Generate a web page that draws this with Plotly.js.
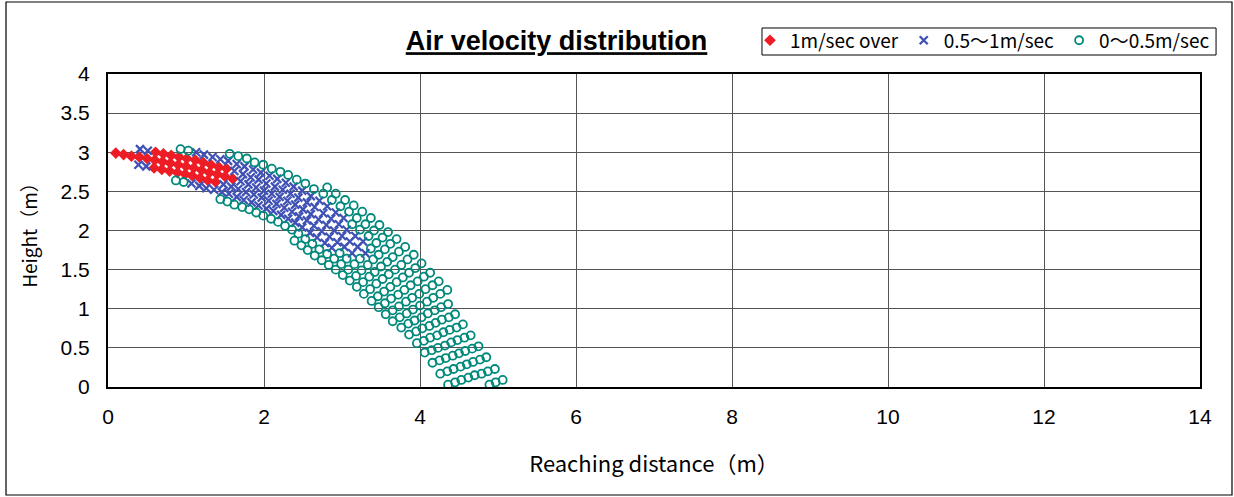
<!DOCTYPE html>
<html>
<head>
<meta charset="utf-8">
<script src="https://cdn.plot.ly/plotly-3.0.1.min.js"></script>
<style>
  html, body { margin: 0; padding: 0; background: #ffffff; }
  #chart { width: 1234px; height: 497px; }
</style>
</head>
<body>
<div id="chart"></div>
<script>
// ---- Data (metres) ----
const seriesNames = ['1m/sec over', '0.5〜1m/sec', '0〜0.5m/sec'];

const redX = [0.10,0.20,0.30,0.40,0.50,
  0.61,0.60,0.59, 0.71,0.70,0.69, 0.81,0.80,0.79, 0.91,0.90,0.89, 1.01,1.00,0.99,
  1.12,1.10,1.08, 1.22,1.20,1.18, 1.32,1.30,1.28, 1.42,1.40,1.38, 1.52,1.50, 1.60];
const redY = [2.99,2.97,2.95,2.94,2.92,
  3.00,2.90,2.80, 2.98,2.88,2.78, 2.96,2.86,2.76, 2.94,2.84,2.74, 2.92,2.82,2.72,
  2.90,2.80,2.70, 2.87,2.77,2.67, 2.84,2.74,2.64, 2.81,2.72,2.62, 2.79,2.69, 2.66];

const blueX = [0.41,0.39, 0.51,0.49, 1.13,1.07, 1.23,1.17, 1.34,1.26, 1.44,1.36,
  1.54,1.48,1.46, 1.65,1.62,1.58,1.55,
  1.75,1.73,1.70,1.67,1.65, 1.86,1.83,1.80,1.77,1.74, 1.96,1.93,1.90,1.87,1.84,
  2.07,2.03,2.00,1.97,1.93, 2.17,2.14,2.10,2.06,2.03, 2.28,2.24,2.20,2.16,2.12,
  2.38,2.34,2.30,2.26,2.22, 2.49,2.44,2.40,2.36,2.31, 2.60,2.55,2.50,2.45,2.40,
  2.71,2.65,2.60,2.55,2.49, 2.81,2.76,2.70,2.64,2.59, 2.92,2.86,2.80,2.74,2.68,
  3.02,2.96,2.90,2.84,2.78, 3.06,3.00,2.94,2.87, 3.17,3.10,3.03, 3.27,3.20,3.13, 3.30];
const blueY = [3.04,2.84, 3.02,2.82, 3.00,2.60, 2.97,2.57, 2.94,2.54, 2.91,2.52,
  2.89,2.59,2.49, 2.85,2.76,2.56,2.47,
  2.82,2.72,2.63,2.53,2.43, 2.78,2.68,2.59,2.49,2.39, 2.74,2.65,2.55,2.46,2.36,
  2.70,2.60,2.51,2.42,2.32, 2.66,2.56,2.47,2.38,2.28, 2.61,2.52,2.43,2.34,2.25,
  2.56,2.47,2.38,2.29,2.20, 2.51,2.42,2.33,2.24,2.15, 2.44,2.36,2.27,2.18,2.10,
  2.38,2.30,2.21,2.13,2.04, 2.31,2.22,2.14,2.06,1.97, 2.23,2.15,2.07,1.99,1.91,
  2.16,2.08,2.00,1.92,1.84, 2.01,1.93,1.85,1.78, 1.93,1.86,1.79, 1.86,1.79,1.71, 1.71];

const greenX = [0.93,0.87, 1.03,0.97, 1.56,1.44, 1.67,1.53, 1.78,1.62, 1.88,1.72, 1.99,1.81,
  2.10,1.90, 2.21,1.99, 2.31,2.09, 2.42,2.18, 2.53,2.27, 2.64,2.36,
  2.81,2.76,2.44,2.39, 2.92,2.87,2.53,2.48, 3.04,2.98,2.62,2.56, 3.15,3.09,2.71,2.65,
  3.26,3.19,3.13,2.81,2.74, 3.37,3.30,3.23,2.97,2.90,2.83, 3.48,3.41,3.34,3.06,2.99,2.92,
  3.59,3.52,3.44,3.37,3.23,3.16,3.08,3.01,
  3.70,3.62,3.55,3.47,3.40,3.33,3.25,3.18,3.10,
  3.81,3.73,3.65,3.58,3.50,3.42,3.35,3.27,3.19,
  3.92,3.84,3.76,3.68,3.60,3.52,3.44,3.36,3.28,
  4.02,3.94,3.86,3.78,3.70,3.62,3.54,3.46,3.38,
  4.13,4.05,3.97,3.88,3.80,3.72,3.63,3.55,3.47,
  4.24,4.16,4.07,3.99,3.90,3.82,3.73,3.65,3.56,
  4.35,4.26,4.17,4.09,4.00,3.91,3.83,3.74,3.65,
  4.36,4.27,4.19,4.10,4.02,3.93,3.85,3.76,
  4.45,4.37,4.28,4.20,4.12,4.03,3.95,3.86,
  4.55,4.47,4.38,4.30,4.22,4.13,4.05,3.96,
  4.65,4.57,4.48,4.40,4.32,4.23,4.15,4.06,
  4.75,4.67,4.58,4.50,4.42,4.33,4.25,4.16,
  4.85,4.77,4.68,4.60,4.52,4.43,4.35,4.26,
  4.96,4.87,4.79,4.70,4.62,4.53,4.45,4.36,
  5.06,4.97,4.89];
const greenY = [3.04,2.64, 3.02,2.62, 2.98,2.40, 2.95,2.37, 2.92,2.33, 2.87,2.30, 2.84,2.27,
  2.79,2.23, 2.75,2.19, 2.71,2.15, 2.65,2.11, 2.60,2.06, 2.53,2.01,
  2.55,2.47,1.96,1.87, 2.47,2.39,1.89,1.81, 2.39,2.31,1.83,1.75, 2.32,2.24,1.76,1.68,
  2.24,2.16,2.08,1.70,1.62, 2.16,2.08,2.01,1.71,1.64,1.56, 2.07,2.00,1.93,1.64,1.57,1.50,
  1.98,1.91,1.84,1.77,1.64,1.57,1.50,1.43,
  1.89,1.83,1.76,1.69,1.63,1.56,1.49,1.42,1.36,
  1.79,1.73,1.66,1.60,1.54,1.47,1.41,1.34,1.28,
  1.69,1.63,1.56,1.50,1.44,1.38,1.32,1.25,1.19,
  1.58,1.52,1.46,1.40,1.34,1.28,1.22,1.16,1.10,
  1.46,1.41,1.35,1.30,1.24,1.18,1.13,1.07,1.02,
  1.35,1.30,1.25,1.19,1.14,1.09,1.03,0.98,0.93,
  1.24,1.19,1.14,1.09,1.04,0.99,0.94,0.89,0.84,
  1.06,1.02,0.98,0.94,0.89,0.85,0.81,0.76,
  0.93,0.89,0.86,0.82,0.78,0.75,0.71,0.67,
  0.80,0.76,0.73,0.70,0.66,0.63,0.59,0.56,
  0.66,0.63,0.60,0.57,0.53,0.50,0.47,0.44,
  0.52,0.49,0.46,0.43,0.40,0.37,0.34,0.31,
  0.38,0.35,0.32,0.29,0.26,0.23,0.20,0.17,
  0.23,0.20,0.17,0.15,0.12,0.09,0.06,0.03,
  0.09,0.06,0.03];

const xTickVals = [0, 2, 4, 6, 8, 10, 12, 14];
const xTickText = ['0', '2', '4', '6', '8', '10', '12', '14'];
const yTickVals = [0, 0.5, 1, 1.5, 2, 2.5, 3, 3.5, 4];
const yTickText = ['0', '0.5', '1', '1.5', '2', '2.5', '3', '3.5', '4'];

const chartTitle = 'Air velocity distribution';
const xTitle = 'Reaching distance（m）';
const yTitle = 'Height（m）';

// ---- Styling ----
const RED = '#ee1c25', BLUE = '#3f51b5', GREEN = '#00897b';
const tickFont = {family: 'Liberation Sans, Arial, sans-serif', size: 21, color: '#000'};

const traces = [
  {type: 'scatter', mode: 'markers', name: seriesNames[0], x: redX, y: redY,
   marker: {symbol: 'diamond', size: 9, color: RED, line: {width: 0}}},
  {type: 'scatter', mode: 'markers', name: seriesNames[1], x: blueX, y: blueY,
   marker: {symbol: 'x-thin', size: 8, color: BLUE, line: {width: 2.3, color: BLUE}}},
  {type: 'scatter', mode: 'markers', name: seriesNames[2], x: greenX, y: greenY,
   marker: {symbol: 'circle-open', size: 8, color: GREEN, line: {width: 1.8, color: GREEN}}}
];

const axisCommon = {
  showline: true, linecolor: '#000', linewidth: 2, mirror: true,
  showgrid: true, gridcolor: '#555', gridwidth: 1,
  zeroline: false, ticks: '', tickfont: tickFont, fixedrange: true
};

const layout = {
  width: 1234, height: 497,
  margin: {l: 108, r: 34, t: 74, b: 110, pad: 0},
  paper_bgcolor: '#ffffff', plot_bgcolor: '#ffffff',
  showlegend: true,
  title: {
    text: '<b><u>' + chartTitle + '</u></b>',
    font: {family: 'Liberation Sans, Arial, sans-serif', size: 27, color: '#000'},
    x: 0.451, xref: 'container', xanchor: 'center',
    y: 0.918, yref: 'container', yanchor: 'middle'
  },
  xaxis: Object.assign({}, axisCommon, {
    range: [0, 14], tickvals: xTickVals, ticktext: xTickText,
    ticklabelstandoff: 10,
    title: {text: xTitle,
            font: {family: '"Noto Sans CJK JP", "Liberation Sans", sans-serif', size: 22, color: '#000'},
            standoff: 29}
  }),
  yaxis: Object.assign({}, axisCommon, {
    range: [0, 4], tickvals: yTickVals, ticktext: yTickText,
    ticklabelstandoff: 12,
    title: {text: yTitle,
            font: {family: '"Noto Sans CJK JP", "Liberation Sans", sans-serif', size: 19, color: '#000'},
            standoff: 18}
  }),
  legend: {
    orientation: 'h', x: 0.5879, xanchor: 'left', y: 1.168, yanchor: 'top',
    bgcolor: 'rgba(0,0,0,0)', borderwidth: 0,
    font: {family: '"Noto Sans CJK JP", sans-serif', size: 19, color: '#000'},
    itemwidth: 30, tracegroupgap: 0
  },
  shapes: [
    // outer chart frame
    {type: 'rect', xref: 'paper', yref: 'paper',
     x0: -0.0934, x1: 1.0293, y0: -0.345, y1: 1.230,
     line: {color: '#000', width: 1.2}, fillcolor: 'rgba(0,0,0,0)'},
    // legend frame
    {type: 'rect', xref: 'paper', yref: 'paper',
     x0: 0.5989, x1: 1.0147, y0: 1.0607, y1: 1.147,
     line: {color: '#000', width: 1}, fillcolor: 'rgba(0,0,0,0)', layer: 'below'}
  ]
};

Plotly.newPlot('chart', traces, layout, {staticPlot: true, displayModeBar: false});
</script>
</body>
</html>
